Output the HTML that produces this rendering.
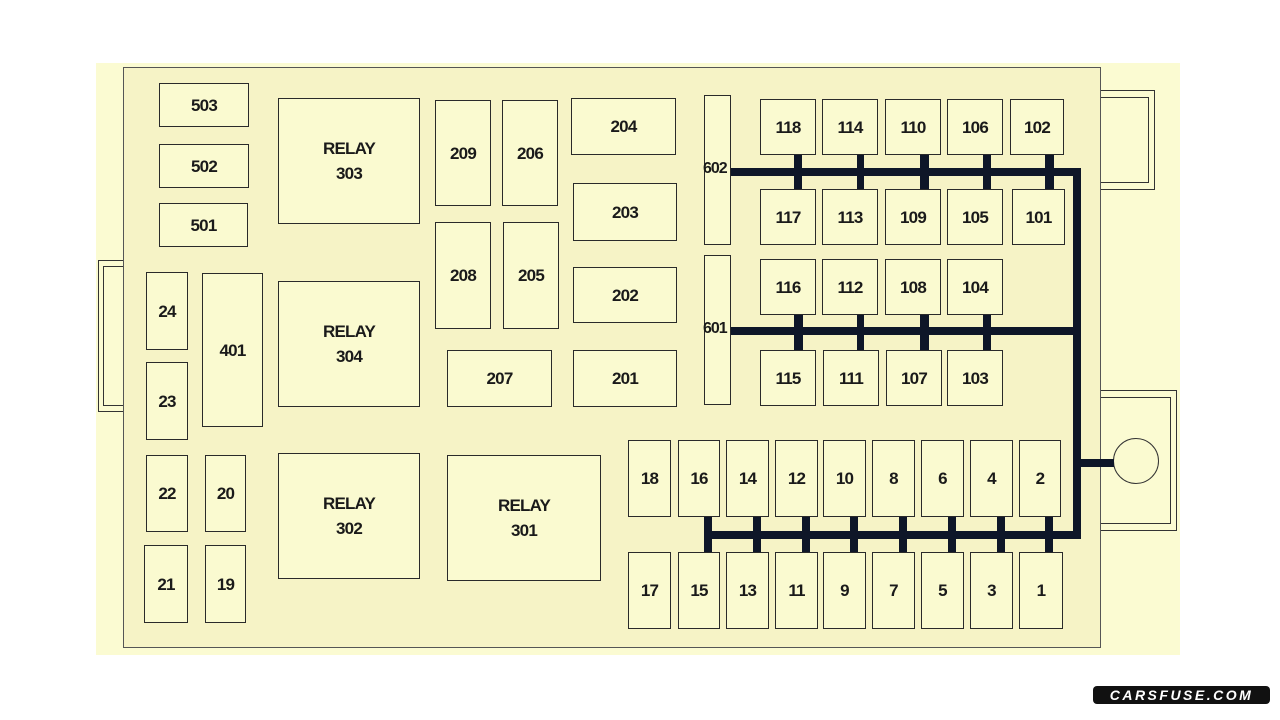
<!DOCTYPE html>
<html><head><meta charset="utf-8"><style>
html,body{margin:0;padding:0;width:1280px;height:720px;background:#fff;overflow:hidden}
.a{position:absolute;box-sizing:border-box}
.b{position:absolute;box-sizing:border-box;border:1.5px solid #2a2a2a;background:#fafad0;display:flex;align-items:center;justify-content:center;text-align:center;font-family:"Liberation Sans Narrow","Liberation Sans",sans-serif;font-weight:bold;font-size:17px;letter-spacing:-0.8px;color:#1a1a1a;line-height:25px}
.k{position:absolute;background:#0e1628}
</style></head><body>
<div class="a" style="left:96px;top:63px;width:1084px;height:592px;background:#fbfbd2"></div>
<div class="a" style="left:123px;top:67px;width:978px;height:581px;background:#f6f3c6;border:1.5px solid #555"></div>
<div class="a" style="left:98px;top:260px;width:25px;height:152px;border:1.5px solid #333;border-right:none"></div>
<div class="a" style="left:103px;top:266px;width:20px;height:140px;border:1.5px solid #333;border-right:none"></div>
<div class="a" style="left:1101px;top:90px;width:54px;height:100px;border:1.5px solid #333;border-left:none"></div>
<div class="a" style="left:1101px;top:97px;width:48px;height:86px;border:1.5px solid #333;border-left:none"></div>
<div class="a" style="left:1101px;top:390px;width:76px;height:141px;border:1.5px solid #333;border-left:none"></div>
<div class="a" style="left:1101px;top:397px;width:70px;height:127px;border:1.5px solid #333;border-left:none"></div>
<div class="a" style="left:1113px;top:438px;width:46px;height:46px;border:1.5px solid #333;border-radius:50%;background:#fafad0"></div>
<div class="k" style="left:731px;top:168px;width:350px;height:8px"></div>
<div class="k" style="left:731px;top:327px;width:350px;height:8px"></div>
<div class="k" style="left:1073px;top:168px;width:8px;height:371px"></div>
<div class="k" style="left:706px;top:531px;width:375px;height:8px"></div>
<div class="k" style="left:1077px;top:459px;width:37px;height:8px"></div>

<div class="b" style="left:159px;top:83px;width:90px;height:44px">503</div>
<div class="b" style="left:159px;top:144px;width:90px;height:44px">502</div>
<div class="b" style="left:159px;top:203px;width:89px;height:44px">501</div>
<div class="b" style="left:278px;top:98px;width:142px;height:126px">RELAY<br>303</div>
<div class="b" style="left:435px;top:100px;width:56px;height:106px">209</div>
<div class="b" style="left:502px;top:100px;width:56px;height:106px">206</div>
<div class="b" style="left:571px;top:98px;width:105px;height:57px">204</div>
<div class="b" style="left:573px;top:183px;width:104px;height:58px">203</div>
<div class="b" style="left:435px;top:222px;width:56px;height:107px">208</div>
<div class="b" style="left:503px;top:222px;width:56px;height:107px">205</div>
<div class="b" style="left:573px;top:267px;width:104px;height:56px">202</div>
<div class="b" style="left:447px;top:350px;width:105px;height:57px">207</div>
<div class="b" style="left:573px;top:350px;width:104px;height:57px">201</div>
<div class="b" style="left:278px;top:281px;width:142px;height:126px">RELAY<br>304</div>
<div class="b" style="left:146px;top:272px;width:42px;height:78px">24</div>
<div class="b" style="left:146px;top:362px;width:42px;height:78px">23</div>
<div class="b" style="left:202px;top:273px;width:61px;height:154px">401</div>
<div class="b" style="left:146px;top:455px;width:42px;height:77px">22</div>
<div class="b" style="left:205px;top:455px;width:41px;height:77px">20</div>
<div class="b" style="left:144px;top:545px;width:44px;height:78px">21</div>
<div class="b" style="left:205px;top:545px;width:41px;height:78px">19</div>
<div class="b" style="left:278px;top:453px;width:142px;height:126px">RELAY<br>302</div>
<div class="b" style="left:447px;top:455px;width:154px;height:126px">RELAY<br>301</div>

<div class="b" style="left:704px;top:95px;width:27px;height:150px"></div>
<div class="b" style="left:704px;top:255px;width:27px;height:150px"></div>
<div class="a" style="left:703px;top:160px;font:bold 16px 'Liberation Sans Narrow','Liberation Sans',sans-serif;letter-spacing:-1px;color:#1a1a1a">602</div>
<div class="a" style="left:703px;top:320px;font:bold 16px 'Liberation Sans Narrow','Liberation Sans',sans-serif;letter-spacing:-1px;color:#1a1a1a">601</div>

<div class="k" style="left:794px;top:154px;width:8px;height:36px"></div>
<div class="k" style="left:857px;top:154px;width:7px;height:36px"></div>
<div class="k" style="left:920px;top:154px;width:9px;height:36px"></div>
<div class="k" style="left:983px;top:154px;width:8px;height:36px"></div>
<div class="k" style="left:1045px;top:154px;width:9px;height:36px"></div>
<div class="k" style="left:794px;top:314px;width:9px;height:37px"></div>
<div class="k" style="left:857px;top:314px;width:7px;height:37px"></div>
<div class="k" style="left:920px;top:314px;width:9px;height:37px"></div>
<div class="k" style="left:983px;top:314px;width:8px;height:37px"></div>

<div class="b" style="left:760px;top:99px;width:56px;height:56px">118</div>
<div class="b" style="left:822px;top:99px;width:56px;height:56px">114</div>
<div class="b" style="left:885px;top:99px;width:56px;height:56px">110</div>
<div class="b" style="left:947px;top:99px;width:56px;height:56px">106</div>
<div class="b" style="left:1010px;top:99px;width:54px;height:56px">102</div>
<div class="b" style="left:760px;top:189px;width:56px;height:56px">117</div>
<div class="b" style="left:822px;top:189px;width:56px;height:56px">113</div>
<div class="b" style="left:885px;top:189px;width:56px;height:56px">109</div>
<div class="b" style="left:947px;top:189px;width:56px;height:56px">105</div>
<div class="b" style="left:1012px;top:189px;width:53px;height:56px">101</div>
<div class="b" style="left:760px;top:259px;width:56px;height:56px">116</div>
<div class="b" style="left:822px;top:259px;width:56px;height:56px">112</div>
<div class="b" style="left:885px;top:259px;width:56px;height:56px">108</div>
<div class="b" style="left:947px;top:259px;width:56px;height:56px">104</div>
<div class="b" style="left:760px;top:350px;width:56px;height:56px">115</div>
<div class="b" style="left:823px;top:350px;width:56px;height:56px">111</div>
<div class="b" style="left:886px;top:350px;width:56px;height:56px">107</div>
<div class="b" style="left:947px;top:350px;width:56px;height:56px">103</div>

<div class="k" style="left:704px;top:516px;width:8px;height:37px"></div>
<div class="k" style="left:753px;top:516px;width:8px;height:37px"></div>
<div class="k" style="left:802px;top:516px;width:8px;height:37px"></div>
<div class="k" style="left:850px;top:516px;width:8px;height:37px"></div>
<div class="k" style="left:899px;top:516px;width:8px;height:37px"></div>
<div class="k" style="left:948px;top:516px;width:8px;height:37px"></div>
<div class="k" style="left:997px;top:516px;width:8px;height:37px"></div>
<div class="k" style="left:1045px;top:516px;width:8px;height:37px"></div>

<div class="b" style="left:628px;top:440px;width:43px;height:77px">18</div>
<div class="b" style="left:678px;top:440px;width:42px;height:77px">16</div>
<div class="b" style="left:726px;top:440px;width:43px;height:77px">14</div>
<div class="b" style="left:775px;top:440px;width:43px;height:77px">12</div>
<div class="b" style="left:823px;top:440px;width:43px;height:77px">10</div>
<div class="b" style="left:872px;top:440px;width:43px;height:77px">8</div>
<div class="b" style="left:921px;top:440px;width:43px;height:77px">6</div>
<div class="b" style="left:970px;top:440px;width:43px;height:77px">4</div>
<div class="b" style="left:1019px;top:440px;width:42px;height:77px">2</div>
<div class="b" style="left:628px;top:552px;width:43px;height:77px">17</div>
<div class="b" style="left:678px;top:552px;width:42px;height:77px">15</div>
<div class="b" style="left:726px;top:552px;width:43px;height:77px">13</div>
<div class="b" style="left:775px;top:552px;width:43px;height:77px">11</div>
<div class="b" style="left:823px;top:552px;width:43px;height:77px">9</div>
<div class="b" style="left:872px;top:552px;width:43px;height:77px">7</div>
<div class="b" style="left:921px;top:552px;width:43px;height:77px">5</div>
<div class="b" style="left:970px;top:552px;width:43px;height:77px">3</div>
<div class="b" style="left:1019px;top:552px;width:44px;height:77px">1</div>

<div class="a" style="left:1093px;top:686px;width:177px;height:18px;background:#111;border-radius:4px;color:#fff;font:italic bold 14px 'Liberation Sans',sans-serif;letter-spacing:2.5px;text-align:center;line-height:18px">CARSFUSE.COM</div>
</body></html>
